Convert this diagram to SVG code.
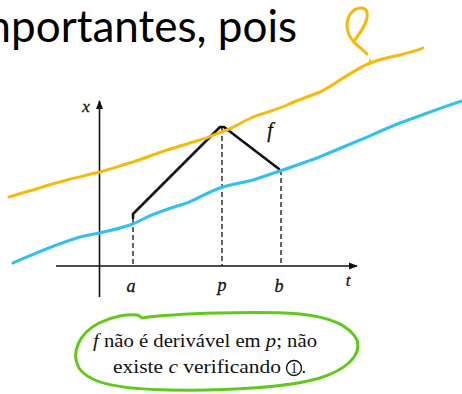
<svg xmlns="http://www.w3.org/2000/svg" width="462" height="394" viewBox="0 0 462 394">
<style>
.ink{fill:none;stroke-linecap:round;stroke-linejoin:round}
.lbl{font-family:"Liberation Serif",serif;font-style:italic;fill:#111;stroke:#111;stroke-width:0.3}
.serif{font-family:"Liberation Serif",serif;fill:#111}
.axis{stroke:#111;stroke-width:1.6;fill:none}
.dash{stroke:#111;stroke-width:1.3;stroke-dasharray:5 3;fill:none}
</style>
<defs>
<marker id="ah" viewBox="0 0 10 10" refX="9" refY="5" markerWidth="9" markerHeight="9" markerUnits="userSpaceOnUse" orient="auto"><path d="M0,1 L10,5 L0,9 z" fill="#111"/></marker>
</defs>
<rect width="462" height="394" fill="#fff"/>
<g id="heading">
<text x="297" y="42" text-anchor="end" font-family="Lato, sans-serif" font-size="44" fill="#000">importantes, pois</text>
</g>
<g id="axes">
<line class="axis" x1="99.5" y1="297" x2="99.5" y2="101" marker-end="url(#ah)"/>
<line class="axis" x1="56" y1="266" x2="357" y2="266" marker-end="url(#ah)"/>
<text class="lbl" x="86" y="112" font-size="17" text-anchor="middle">x</text>
<text class="lbl" x="348" y="286" font-size="17" text-anchor="middle">t</text>
<text class="lbl" x="131" y="292" font-size="18" text-anchor="middle">a</text>
<text class="lbl" x="222" y="291" font-size="18" text-anchor="middle">p</text>
<text class="lbl" x="279" y="292" font-size="18" text-anchor="middle">b</text>
</g>
<g id="connectors">
<line class="dash" x1="133" y1="219" x2="133" y2="266"/>
<line class="dash" x1="222" y1="128" x2="222" y2="266"/>
<line class="dash" x1="281" y1="170" x2="281" y2="266"/>
</g>
<g id="graph-f">
<polyline class="ink" points="133,218 133,214 220,127 224,127 279,169" stroke="#111" stroke-width="2.6"/>
<text class="lbl" x="270" y="137" font-size="20" text-anchor="middle">f</text>
</g>
<g id="orange-line">
<path class="ink" stroke="#F7BA0B" stroke-width="3" d="M9,197 C20,194 25,192 33,190 C45,186 55,183 67,180 C80,177 90,174 100,172 C112,169 122,165 133,162 C145,158 155,154 167,150 C178,147 189,143 200,140 C210,137 218,133 227,130 C236,126 244,121 253,117 C264,113 276,110 287,105 C298,100 310,96 320,92 C328,88 334,84 340,80 C350,74 360,67 370,63 C380,59 390,57 400,55 C410,52 417,51 423,48"/>
<path class="ink" stroke="#F7BA0B" stroke-width="3" d="M367,54 C361,48 356,45 353,41 C346,33 345,21 351,13 C356,7 365,6 367,12 C369,21 361,32 354,41"/>
<path class="ink" stroke="#F7BA0B" stroke-width="2" d="M370,60 L370,64"/>
</g>
<g id="blue-line">
<path class="ink" stroke="#33C0F0" stroke-width="3" d="M13,263 C30,256 50,246 80,237 C88,235 94,234 100,233 C112,230 122,228 133,224 C142,220 148,216 157,213 C167,209 177,206 187,203 C198,198 209,192 220,188 C231,184 242,183 253,180 C262,177 271,174 280,171 C292,167 305,162 317,158 C331,152 346,146 360,140 C374,134 387,128 400,123 C420,116 440,108 462,101"/>
</g>
<g id="note">
<path class="ink" stroke="#62C81C" stroke-width="3" d="M142,318 C175,313 260,311 300,314 C330,317 350,326 357,340 C362,356 345,370 320,378 C290,387 230,391 170,390 C120,389 90,384 79,368 C70,352 80,333 99,323 C113,316 128,314 137,315 C140,316 141,317 142,318 Z"/>
<text class="serif" x="93" y="347" font-size="18" textLength="224" lengthAdjust="spacingAndGlyphs"><tspan font-style="italic">f</tspan> não é derivável em <tspan font-style="italic">p</tspan>; não</text>
<text class="serif" x="113" y="373" font-size="18" textLength="168" lengthAdjust="spacingAndGlyphs">existe <tspan font-style="italic">c</tspan> verificando</text>
<circle cx="294" cy="368" r="7.5" fill="none" stroke="#111" stroke-width="1.3"/>
<text class="serif" x="294" y="373" text-anchor="middle" font-size="14">1</text>
<text class="serif" x="301.5" y="373" font-size="18">.</text>
</g>
</svg>
